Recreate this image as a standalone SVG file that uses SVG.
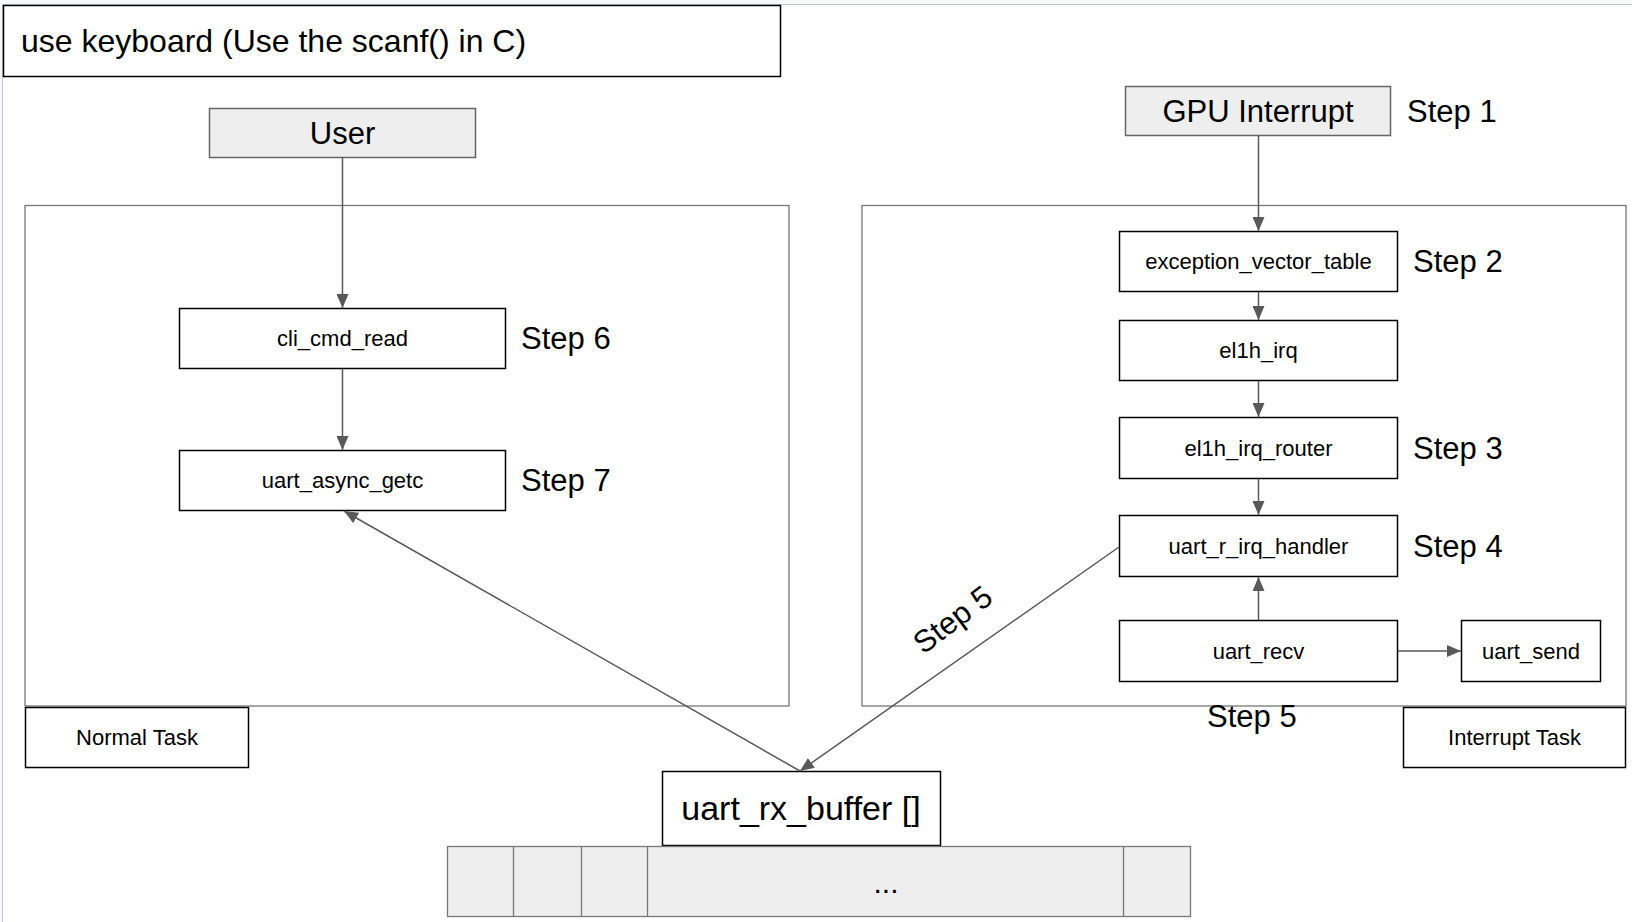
<svg xmlns="http://www.w3.org/2000/svg" width="1632" height="922" viewBox="0 0 1632 922">
  <defs>
    <style>
      text { font-family: "Liberation Sans", Arial, sans-serif; fill: #000; }
      .box { fill: #fff; stroke: #000; stroke-width: 1.5; }
      .grey { fill: #eeeeee; stroke: #666; stroke-width: 1.5; }
      .frame { fill: none; stroke: #777; stroke-width: 1.3; }
      .cell { fill: #eeeeee; stroke: #777; stroke-width: 1.3; }
      .lbl { font-size: 22px; text-anchor: middle; }
      .big { font-size: 31px; }
      .mid { text-anchor: middle; }
      .conn { stroke: #595959; stroke-width: 1.5; fill: none; marker-end: url(#arrow); }
    </style>
    <marker id="arrow" markerUnits="userSpaceOnUse" markerWidth="14" markerHeight="12" refX="14" refY="6" orient="auto">
      <path d="M0,0 L14,6 L0,12 z" fill="#595959"/>
    </marker>
  </defs>

  <!-- canvas edge -->
  <rect x="0" y="0" width="1632" height="922" fill="#fff"/>
  <rect x="0" y="0" width="1632" height="4" fill="#f6f7f8"/>
  <rect x="0" y="0" width="2" height="922" fill="#f6f7f8"/>
  <line x1="2" y1="4.5" x2="1632" y2="4.5" stroke="#c4c7ca" stroke-width="1"/>
  <line x1="2.5" y1="4" x2="2.5" y2="922" stroke="#c4c7ca" stroke-width="1"/>

  <g id="title">
    <rect class="box" x="3.5" y="5.5" width="777" height="71"/>
    <text font-size="32" x="21" y="52">use keyboard (Use the scanf() in C)</text>
  </g>

  <!-- task containers -->
  <g id="normal-area">
    <rect class="frame" x="25" y="205.5" width="764" height="500.5"/>
  </g>
  <g id="interrupt-area">
    <rect class="frame" x="862" y="205.5" width="764" height="500.5"/>
  </g>

  <g id="user">
    <rect class="grey" x="209.5" y="108.5" width="266" height="49"/>
    <text class="big mid" x="342.5" y="144">User</text>
  </g>

  <g id="cli_cmd_read">
    <rect class="box" x="179.5" y="308.5" width="326" height="60"/>
    <text class="lbl" x="342.5" y="346">cli_cmd_read</text>
    <text class="big" x="521" y="349">Step 6</text>
  </g>

  <g id="uart_async_getc">
    <rect class="box" x="179.5" y="450.5" width="326" height="60"/>
    <text class="lbl" x="342.5" y="488">uart_async_getc</text>
    <text class="big" x="521" y="491">Step 7</text>
  </g>

  <g id="normal-task">
    <rect class="box" x="25.5" y="707.5" width="223" height="60"/>
    <text class="lbl" x="137" y="745">Normal Task</text>
  </g>

  <g id="gpu-interrupt">
    <rect class="grey" x="1125.5" y="86.5" width="265" height="49"/>
    <text class="big mid" x="1258" y="122">GPU Interrupt</text>
    <text class="big" x="1407" y="122">Step 1</text>
  </g>

  <g id="exception_vector_table">
    <rect class="box" x="1119.5" y="231.5" width="278" height="60"/>
    <text class="lbl" x="1258.5" y="269">exception_vector_table</text>
    <text class="big" x="1413" y="272">Step 2</text>
  </g>

  <g id="el1h_irq">
    <rect class="box" x="1119.5" y="320.5" width="278" height="60"/>
    <text class="lbl" x="1258.5" y="358">el1h_irq</text>
  </g>

  <g id="el1h_irq_router">
    <rect class="box" x="1119.5" y="417.5" width="278" height="61"/>
    <text class="lbl" x="1258.5" y="456">el1h_irq_router</text>
    <text class="big" x="1413" y="459">Step 3</text>
  </g>

  <g id="uart_r_irq_handler">
    <rect class="box" x="1119.5" y="515.5" width="278" height="61"/>
    <text class="lbl" x="1258.5" y="554">uart_r_irq_handler</text>
    <text class="big" x="1413" y="557">Step 4</text>
  </g>

  <g id="uart_recv">
    <rect class="box" x="1119.5" y="620.5" width="278" height="61"/>
    <text class="lbl" x="1258.5" y="659">uart_recv</text>
  </g>

  <g id="uart_send">
    <rect class="box" x="1461.5" y="620.5" width="139" height="61"/>
    <text class="lbl" x="1531" y="659">uart_send</text>
  </g>

  <g id="interrupt-task">
    <rect class="box" x="1403.5" y="707.5" width="222" height="60"/>
    <text class="lbl" x="1514.5" y="745">Interrupt Task</text>
  </g>

  <g id="step5-label">
    <text class="big" x="1207" y="727">Step 5</text>
  </g>

  <g id="uart_rx_buffer">
    <rect class="box" x="662.5" y="771.5" width="278" height="74"/>
    <text class="mid" font-size="34" x="801" y="820">uart_rx_buffer []</text>
  </g>

  <g id="buffer-cells">
    <rect class="cell" x="447.5" y="846.5" width="743" height="70"/>
    <line class="cell" x1="513.5" y1="846.5" x2="513.5" y2="916.5"/>
    <line class="cell" x1="581.5" y1="846.5" x2="581.5" y2="916.5"/>
    <line class="cell" x1="647.5" y1="846.5" x2="647.5" y2="916.5"/>
    <line class="cell" x1="1123.5" y1="846.5" x2="1123.5" y2="916.5"/>
    <text class="mid" font-size="30" x="886" y="893">...</text>
  </g>

  <g id="connectors">
    <line class="conn" x1="342.5" y1="157" x2="342.5" y2="308"/>
    <line class="conn" x1="342.5" y1="369" x2="342.5" y2="450"/>
    <line class="conn" x1="1258.5" y1="136" x2="1258.5" y2="231"/>
    <line class="conn" x1="1258.5" y1="292" x2="1258.5" y2="320"/>
    <line class="conn" x1="1258.5" y1="381" x2="1258.5" y2="417"/>
    <line class="conn" x1="1258.5" y1="479" x2="1258.5" y2="515"/>
    <line class="conn" x1="1258.5" y1="620" x2="1258.5" y2="577"/>
    <line class="conn" x1="1398" y1="651" x2="1461" y2="651"/>
    <line class="conn" x1="1119" y1="547" x2="800" y2="771"/>
    <line class="conn" x1="800" y1="771" x2="344" y2="511"/>
    <text class="big" transform="translate(959,628) rotate(-37)" text-anchor="middle">Step 5</text>
  </g>
</svg>
